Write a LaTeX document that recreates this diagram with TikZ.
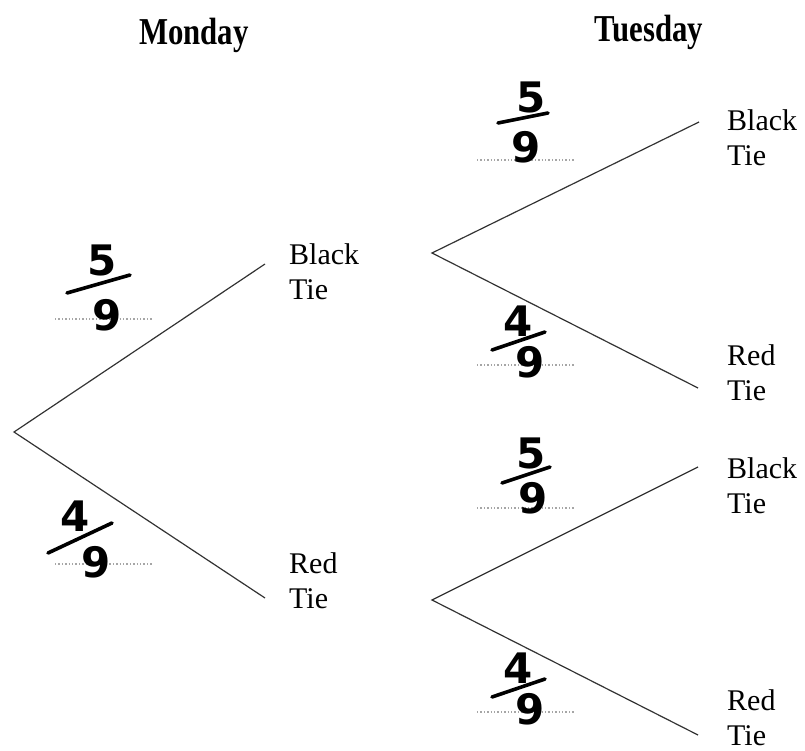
\documentclass[tikz,border=0pt]{standalone}
\usepackage{fontspec}
\usepackage{graphicx}
\setmainfont{Liberation Serif}
\newfontfamily\handfont{DejaVu Sans}

\tikzset{
  branch/.style={draw=black!80, line width=1.2pt},
  guide/.style={draw=gray!70, dash pattern=on 1.3pt off 2.1pt, line width=1.3pt},
  stroke/.style={line width=3.6pt, line cap=round},
  tie/.style={font=\fontsize{30}{35}\selectfont, align=left, anchor=base west, inner sep=0pt},
  day/.style={font=\fontsize{38}{40}\selectfont\bfseries, anchor=base, inner sep=0pt},
  digit/.style={font=\handfont\bfseries\fontsize{42}{42}\selectfont, inner sep=0pt},
}

\begin{document}
\begin{tikzpicture}[x=1pt, y=-1pt]
	\useasboundingbox (0,0) rectangle (805,751);

	% days
	\node[day] (monday) at (194,45) {\scalebox{0.81}[1]{Monday}};
	\node[day] (tuesday) at (649,42) {\scalebox{0.81}[1]{Tuesday}};

	% branch points
	\coordinate (root) at (14,432);
	\coordinate (mB) at (265,264);
	\coordinate (mR) at (265,598);
	\coordinate (bB) at (432,253);
	\coordinate (rB) at (432,600);
	\coordinate (bBB) at (699,122);
	\coordinate (bBR) at (698,388);
	\coordinate (rBB) at (698,467);
	\coordinate (rBR) at (698,735);

	\draw[branch] (mB) -- (root) -- (mR);
	\draw[branch] (bBB) -- (bB) -- (bBR);
	\draw[branch] (rBB) -- (rB) -- (rBR);

	% outcomes (base = baseline of the "Tie" line)
	\node[tie] (monblack) at (289,299) {Black\\Tie};
	\node[tie] (monred) at (289,608) {Red\\Tie};
	\node[tie] (tueblack1) at (727,166) {Black\\Tie};
	\node[tie] (tuered1) at (727,400) {Red\\Tie};
	\node[tie] (tueblack2) at (727,513) {Black\\Tie};
	\node[tie] (tuered2) at (727,745) {Red\\Tie};

	% probabilities
	\foreach \i/\n/\nx/\ny/\dx/\dy/\ax/\ay/\bx/\by/\gx/\gy in {
		1/5/102/260/107/315/67/293/130/275/55/319,
		2/4/75/516/96/562/48/553/112/523/55/564,
		3/5/531/97/526/147/498/123/548/113/477/160,
		4/4/518/321/530/362/492/350/545/332/477/365,
		5/5/531/453/533/498/502/483/550/467/477/508,
		6/4/518/668/530/709/492/697/545/679/477/712}{
		\draw[guide] (\gx,\gy) -- ++(98,0);
		\node[digit] (num\i) at (\nx,\ny) {\n};
		\node[digit] (den\i) at (\dx,\dy) {9};
		\draw[stroke] (\ax,\ay) -- (\bx,\by);
	}
\end{tikzpicture}
\end{document}
